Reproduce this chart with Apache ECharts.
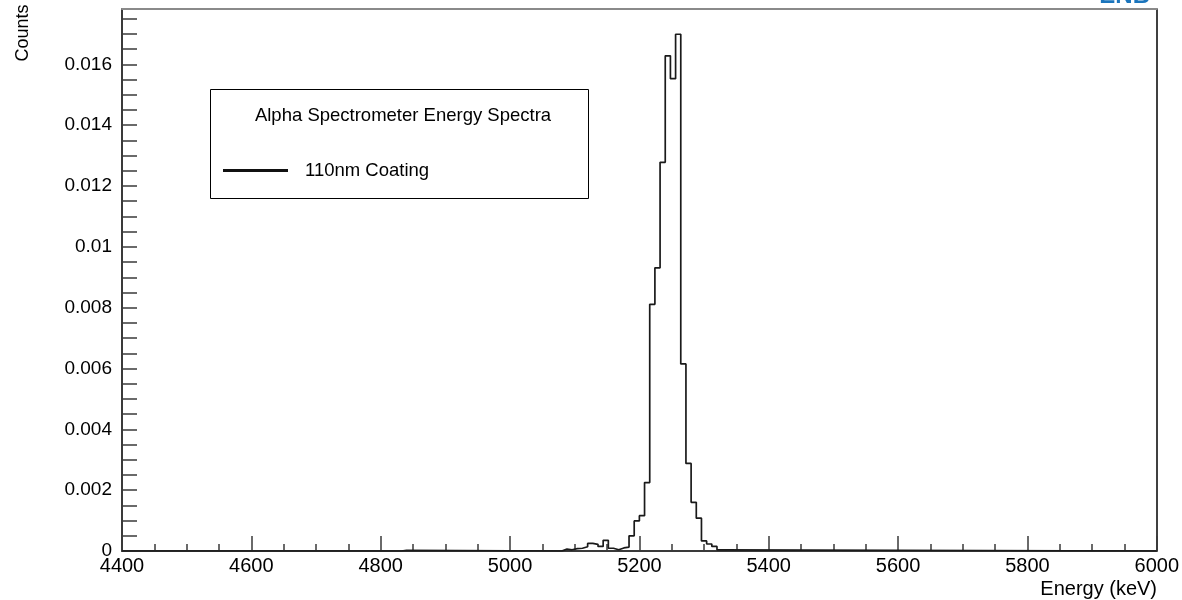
<!DOCTYPE html>
<html>
<head>
<meta charset="utf-8">
<script src="https://cdn.jsdelivr.net/npm/echarts@6/dist/echarts.min.js"></script>
<style>
html,body{margin:0;padding:0;background:#fff;}
#chart{width:1182px;height:600px;}
</style>
</head>
<body>
<div id="chart"></div>
<script>
// ---- data (bin low edges in keV, bin contents in normalised counts) ----
const binEdges = [4400, 4832, 4840,
  5080, 5088, 5096, 5104, 5112, 5120, 5128, 5136, 5144, 5152, 5160, 5168, 5176, 5184, 5192,
  5200, 5208, 5216, 5224, 5232, 5240, 5248, 5256, 5264, 5272, 5280, 5288, 5296, 5304, 5312, 5320, 5328,
  6000];
const counts = [0, 0.00002, 0,
  0.00006, 0.00004, 0.00008, 0.00009, 0.00014, 0.00025, 0.00022, 0.00015, 0.00035, 0.00009, 0.00004, 0.00010, 0.00013, 0.00050, 0.00099,
  0.00116, 0.00225, 0.00811, 0.00931, 0.01278, 0.01628, 0.01553, 0.01699, 0.00615, 0.00288, 0.00160, 0.00108, 0.00033, 0.00023, 0.00015, 0.00004, 0,
  0];
const seriesName = '110nm Coating';
const legendTitle = 'Alpha Spectrometer Energy Spectra';
const xTickLabels = [4400, 4600, 4800, 5000, 5200, 5400, 5600, 5800, 6000];
const yTickLabels = ['0', '0.002', '0.004', '0.006', '0.008', '0.01', '0.012', '0.014', '0.016'];
const xTitle = 'Energy (keV)';
const yTitle = 'Counts';
const X_MIN = 4400, X_MAX = 6000, Y_MIN = 0, Y_MAX = 0.01782;

const yLabelValues = yTickLabels.map(Number);
const yMinorTicks = [];
for (let i = 0; i <= 35; i++) yMinorTicks.push(i * 5 / 10000);

const FONT = '"Liberation Sans", Arial, Helvetica, sans-serif';
const chart = echarts.init(document.getElementById('chart'), null, {renderer: 'canvas'});
const axisGray = '#3a3a3a';

chart.setOption({
  animation: false,
  backgroundColor: '#ffffff',
  grid: {left: 122, right: 24.5, top: 9, bottom: 49, containLabel: false},
  xAxis: [{
    type: 'value', min: X_MIN, max: X_MAX, interval: 200,
    axisLine: {show: true, onZero: false, lineStyle: {color: axisGray, width: 2}},
    axisTick: {show: true, inside: true, length: 15, lineStyle: {color: axisGray, width: 1.5}},
    minorTick: {show: true, splitNumber: 4, length: 7, lineStyle: {color: axisGray, width: 1.5}},
    splitLine: {show: false},
    axisLabel: {color: '#000', fontFamily: FONT, fontSize: 20, margin: 5,
      formatter: v => xTickLabels.includes(v) ? String(v) : ''}
  }, {
    type: 'value', position: 'top', min: X_MIN, max: X_MAX,
    axisLine: {show: true, onZero: false, lineStyle: {color: '#8a8a8a', width: 2}},
    axisTick: {show: false}, axisLabel: {show: false}, splitLine: {show: false}
  }],
  yAxis: [{
    type: 'value', min: Y_MIN, max: Y_MAX,
    axisLine: {show: true, onZero: false, lineStyle: {color: axisGray, width: 2}},
    axisTick: {show: true, inside: true, length: 15, customValues: yMinorTicks, lineStyle: {color: axisGray, width: 1.5}},
    splitLine: {show: false},
    axisLabel: {color: '#000', fontFamily: FONT, fontSize: 19, margin: 10, customValues: yLabelValues,
      formatter: v => { const i = yLabelValues.indexOf(v); return i >= 0 ? yTickLabels[i] : ''; }}
  }, {
    type: 'value', position: 'right', min: Y_MIN, max: Y_MAX,
    axisLine: {show: true, onZero: false, lineStyle: {color: '#000', width: 1.5}},
    axisTick: {show: false}, axisLabel: {show: false}, splitLine: {show: false}
  }],
  legend: {
    left: 223, top: 161, padding: 0, icon: 'rect', itemWidth: 65, itemHeight: 3,
    selectedMode: false,
    textStyle: {color: '#000', fontFamily: FONT, fontSize: 18.5, padding: [0, 0, 0, 12]},
    data: [seriesName]
  },
  graphic: [
    {type: 'rect', shape: {x: 210.5, y: 89.5, width: 378, height: 109},
      style: {fill: '#fff', stroke: '#000', lineWidth: 1}, z: 0, zlevel: 0},
    {type: 'text', x: 403, y: 116, style: {text: legendTitle, fill: '#000', font: '18.5px ' + FONT,
      textAlign: 'center', textVerticalAlign: 'middle'}},
    {type: 'text', x: 23, y: 33, rotation: Math.PI / 2,
      style: {text: yTitle, fill: '#000', font: '18px ' + FONT, textAlign: 'center', textVerticalAlign: 'middle'}},
    {type: 'text', x: 1157, y: 589,
      style: {text: xTitle, fill: '#000', font: '20px ' + FONT, textAlign: 'right', textVerticalAlign: 'middle'}},
    {type: 'text', x: 1150, y: 8,
      style: {text: 'ENB', fill: '#1b75bc', font: 'bold 24px ' + FONT, textAlign: 'right', textVerticalAlign: 'bottom'}}
  ],
  series: [{
    name: seriesName,
    type: 'line',
    step: 'end',
    symbol: 'none',
    color: '#111',
    lineStyle: {color: '#1a1a1a', width: 1.7},
    z: 5,
    data: binEdges.map((e, i) => [e, counts[i]])
  }]
});
</script>
</body>
</html>
